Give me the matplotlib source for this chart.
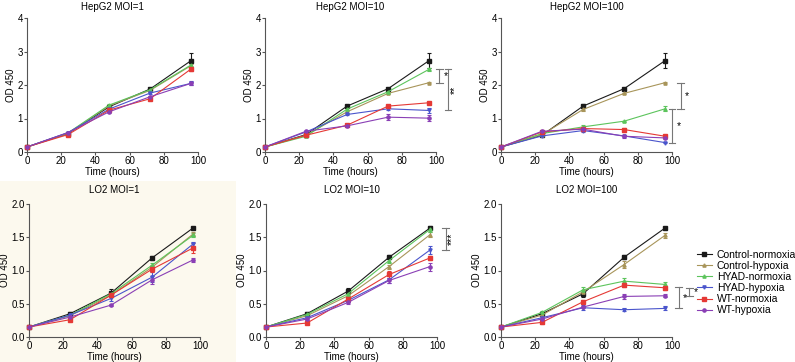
import matplotlib
matplotlib.use("Agg")
import matplotlib.pyplot as plt
from matplotlib.patches import Rectangle
from matplotlib.lines import Line2D

plt.rcParams['font.family'] = ['Liberation Sans', 'DejaVu Sans']

time_h = [0, 24, 48, 72, 96]
series_names = ["Control-normoxia", "Control-hypoxia", "HYAD-normoxia",
                "HYAD-hypoxia", "WT-normoxia", "WT-hypoxia"]
series_colors = ["#1a1a1a", "#a8955a", "#5cc45c", "#4a55cc", "#e53935", "#8a3fb5"]
series_markers = ["s", "^", "^", "v", "s", "o"]

# HepG2
hepg2_moi1 = [
    [0.15, 0.55, 1.35, 1.88, 2.73],
    [0.15, 0.56, 1.38, 1.84, 2.58],
    [0.15, 0.57, 1.40, 1.86, 2.60],
    [0.15, 0.58, 1.28, 1.76, 2.05],
    [0.15, 0.52, 1.25, 1.59, 2.48],
    [0.15, 0.58, 1.20, 1.65, 2.05],
]
hepg2_moi1_err = [
    [0, 0.02, 0.04, 0.04, 0.22],
    [0, 0.02, 0.03, 0.03, 0.05],
    [0, 0.02, 0.04, 0.03, 0.06],
    [0, 0.02, 0.03, 0.03, 0.06],
    [0, 0.02, 0.04, 0.05, 0.05],
    [0, 0.02, 0.03, 0.03, 0.05],
]
hepg2_moi10 = [
    [0.15, 0.52, 1.37, 1.89, 2.73],
    [0.15, 0.50, 1.20, 1.75, 2.07],
    [0.15, 0.47, 1.28, 1.80, 2.47],
    [0.15, 0.60, 1.12, 1.29, 1.24],
    [0.15, 0.50, 0.80, 1.37, 1.47],
    [0.15, 0.62, 0.78, 1.04, 1.01],
]
hepg2_moi10_err = [
    [0, 0.02, 0.04, 0.03, 0.22],
    [0, 0.02, 0.03, 0.03, 0.02],
    [0, 0.02, 0.04, 0.04, 0.04],
    [0, 0.02, 0.02, 0.05, 0.07],
    [0, 0.02, 0.02, 0.03, 0.03],
    [0, 0.02, 0.02, 0.09, 0.09],
]
hepg2_moi100 = [
    [0.15, 0.50, 1.37, 1.89, 2.73],
    [0.15, 0.52, 1.27, 1.75, 2.07],
    [0.15, 0.55, 0.75, 0.92, 1.29],
    [0.15, 0.48, 0.64, 0.48, 0.28],
    [0.15, 0.60, 0.70, 0.67, 0.47],
    [0.15, 0.62, 0.68, 0.47, 0.42],
]
hepg2_moi100_err = [
    [0, 0.02, 0.05, 0.03, 0.22],
    [0, 0.02, 0.04, 0.02, 0.02],
    [0, 0.02, 0.05, 0.02, 0.07],
    [0, 0.02, 0.03, 0.03, 0.02],
    [0, 0.02, 0.02, 0.06, 0.03],
    [0, 0.02, 0.03, 0.04, 0.03],
]

# LO2
lo2_moi1 = [
    [0.15, 0.35, 0.66, 1.19, 1.64],
    [0.15, 0.32, 0.63, 1.05, 1.55],
    [0.15, 0.33, 0.65, 1.08, 1.53],
    [0.15, 0.33, 0.58, 0.90, 1.40],
    [0.15, 0.26, 0.63, 1.02, 1.34],
    [0.15, 0.30, 0.48, 0.86, 1.16],
]
lo2_moi1_err = [
    [0, 0.02, 0.06, 0.03, 0.02],
    [0, 0.02, 0.03, 0.04, 0.03],
    [0, 0.02, 0.03, 0.04, 0.03],
    [0, 0.02, 0.04, 0.08, 0.03],
    [0, 0.02, 0.03, 0.05, 0.08],
    [0, 0.02, 0.02, 0.06, 0.03],
]
lo2_moi10 = [
    [0.15, 0.35, 0.69, 1.20, 1.64],
    [0.15, 0.32, 0.62, 1.06, 1.54],
    [0.15, 0.34, 0.65, 1.15, 1.62],
    [0.15, 0.29, 0.55, 0.86, 1.31],
    [0.15, 0.21, 0.57, 0.94, 1.19],
    [0.15, 0.27, 0.52, 0.85, 1.06],
]
lo2_moi10_err = [
    [0, 0.02, 0.05, 0.03, 0.03],
    [0, 0.02, 0.03, 0.03, 0.04],
    [0, 0.02, 0.04, 0.04, 0.04],
    [0, 0.03, 0.03, 0.05, 0.06],
    [0, 0.02, 0.04, 0.06, 0.03],
    [0, 0.02, 0.03, 0.04, 0.06],
]
lo2_moi100 = [
    [0.15, 0.35, 0.65, 1.20, 1.64],
    [0.15, 0.33, 0.68, 1.09, 1.53],
    [0.15, 0.37, 0.71, 0.84, 0.79],
    [0.15, 0.29, 0.44, 0.41, 0.43],
    [0.15, 0.22, 0.53, 0.78, 0.74],
    [0.15, 0.27, 0.45, 0.61, 0.62],
]
lo2_moi100_err = [
    [0, 0.02, 0.05, 0.03, 0.02],
    [0, 0.02, 0.03, 0.05, 0.04],
    [0, 0.02, 0.04, 0.05, 0.04],
    [0, 0.02, 0.04, 0.02, 0.03],
    [0, 0.02, 0.03, 0.03, 0.03],
    [0, 0.02, 0.02, 0.04, 0.02],
]

panel_titles = ["HepG2 MOI=1", "HepG2 MOI=10", "HepG2 MOI=100",
                "LO2 MOI=1", "LO2 MOI=10", "LO2 MOI=100"]
panel_means = [hepg2_moi1, hepg2_moi10, hepg2_moi100, lo2_moi1, lo2_moi10, lo2_moi100]
panel_errs = [hepg2_moi1_err, hepg2_moi10_err, hepg2_moi100_err,
              lo2_moi1_err, lo2_moi10_err, lo2_moi100_err]

# significance brackets per panel: (x, y_low, y_high, label)
panel_brackets = [
    [],
    [(102, 2.07, 2.47, "*"), (107, 1.24, 2.47, "**")],
    [(105, 1.29, 2.07, "*"), (100, 0.28, 1.29, "*")],
    [],
    [(105, 1.31, 1.64, "***")],
    [(104, 0.43, 0.75, "*"), (110, 0.62, 0.74, "*")],
]

fig = plt.figure(figsize=(7.95, 3.62), dpi=100)
fig.patches.append(Rectangle((0, 0), 236 / 795, 181 / 362, transform=fig.transFigure,
                             facecolor="#fcf9ee", edgecolor="none", zorder=-10))

W, H = 795, 362
lefts_top = [27, 265, 501]
lefts_bot = [29, 266, 501]
axw = 171
top_row = (18, 152)
bot_row = (204, 337)

axes = []
for i in range(6):
    if i < 3:
        l = lefts_top[i]
        t, b = top_row
    else:
        l = lefts_bot[i - 3]
        t, b = bot_row
    ax = fig.add_axes([l / W, (H - b) / H, axw / W, (b - t) / H])
    ax.set_facecolor("none")
    axes.append(ax)

gray = "#555555"
fs = 7
for i, ax in enumerate(axes):
    means = panel_means[i]
    errs = panel_errs[i]
    for k in range(6):
        ax.errorbar(time_h, means[k], yerr=errs[k], color=series_colors[k],
                    marker=series_markers[k], markersize=2.3, linewidth=0.8,
                    elinewidth=0.8, capsize=1.6, capthick=0.8, clip_on=False,
                    zorder=3)
    ax.set_xlim(0, 100)
    ax.set_xticks([0, 20, 40, 60, 80, 100])
    if i < 3:
        ax.set_ylim(0, 4)
        ax.set_yticks([0, 1, 2, 3, 4])
    else:
        ax.set_ylim(0, 2.0)
        ax.set_yticks([0, 0.5, 1.0, 1.5, 2.0])
        ax.set_yticklabels(["0.0", "0.5", "1.0", "1.5", "2.0"])
    for s in ["top", "right"]:
        ax.spines[s].set_visible(False)
    for s in ["left", "bottom"]:
        ax.spines[s].set_color(gray)
        ax.spines[s].set_linewidth(0.8)
    ax.tick_params(axis="both", labelsize=fs, length=2, width=0.8, color=gray, pad=1)
    ax.set_xlabel("Time (hours)", fontsize=fs, labelpad=0.5)
    ax.set_ylabel("OD 450", fontsize=fs, labelpad=1)
    ax.set_title(panel_titles[i], fontsize=fs, pad=6 if i < 3 else 8)
    for (bx, ylo, yhi, lab) in panel_brackets[i]:
        ax.plot([bx, bx], [ylo, yhi], color="#777777", lw=0.8, clip_on=False)
        ax.plot([bx - 2, bx + 2], [ylo, ylo], color="#777777", lw=0.8, clip_on=False)
        ax.plot([bx - 2, bx + 2], [yhi, yhi], color="#777777", lw=0.8, clip_on=False)
        rot = 90 if len(lab) > 1 else 0
        ax.text(bx + 3.8, (ylo + yhi) / 2, lab, fontsize=7.5, rotation=rot,
                ha="center", va="center", clip_on=False)

handles = [Line2D([0], [0], color=series_colors[k], marker=series_markers[k],
                  markersize=2.3, linewidth=0.8) for k in range(6)]
fig.legend(handles, series_names, loc="upper left", bbox_to_anchor=(697 / W, (H - 250) / H),
           frameon=False, fontsize=7.5, handlelength=1.4, handletextpad=0.5,
           labelspacing=0.1, borderaxespad=0, borderpad=0)

fig.savefig("out.png", dpi=100)
